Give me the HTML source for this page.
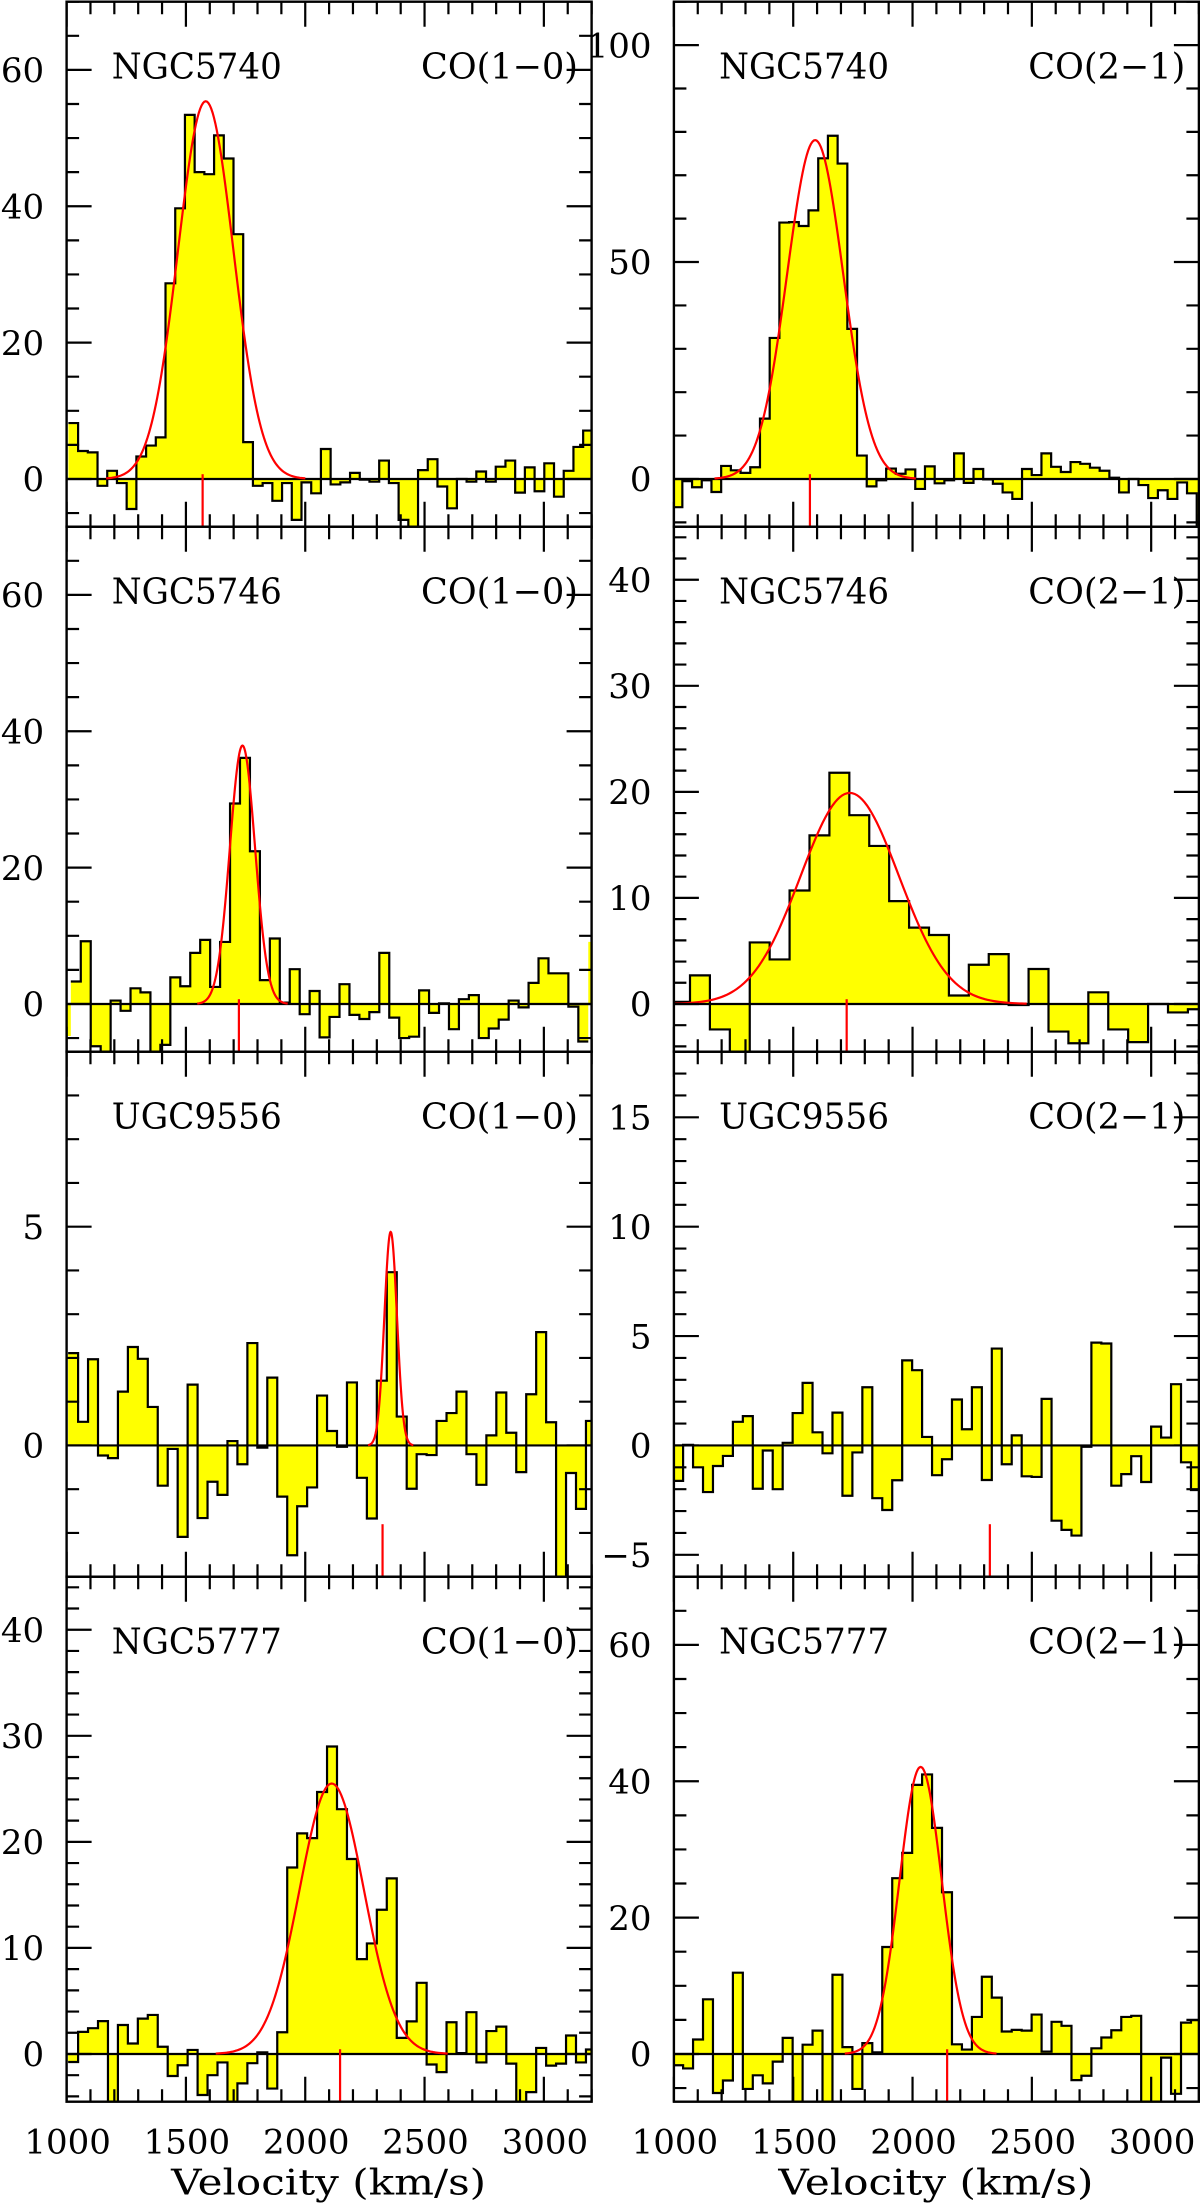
<!DOCTYPE html>
<html lang="en">
<head>
<meta charset="utf-8">
<title>CO spectra</title>
<style>
html,body{margin:0;padding:0;background:#fff;}
svg{display:block;}
text{font-family:"DejaVu Serif","Liberation Serif",serif;fill:#000;}
</style>
</head>
<body>
<svg id="chart" xmlns="http://www.w3.org/2000/svg" width="1200" height="2204" viewBox="0 0 1200 2204"></svg>
<script>
const galaxyNames = ["NGC5740","NGC5740","NGC5746","NGC5746","UGC9556","UGC9556","NGC5777","NGC5777"];
const lineNames = ["CO(1\u22120)","CO(2\u22121)","CO(1\u22120)","CO(2\u22121)","CO(1\u22120)","CO(2\u22121)","CO(1\u22120)","CO(2\u22121)"];
const yMins = [-7,-11,-7,-4.5,-3,-6,-4.5,-7];
const yMaxs = [70,110,70,45,9,18,45,70];
const yMajorTicks = [[0,20,40,60],[0,50,100],[0,20,40,60],[0,10,20,30,40],[0,5],[-5,0,5,10,15],[0,10,20,30,40],[0,20,40,60]];
const yMinorSteps = [5,10,5,2,1,1,2,5];
const xMajorTicks = [1000,1500,2000,2500,3000];
const xMinorStep = 100;
const xMin = 1000;
const xMax = 3200;
const binStarts = [1007.5,994.7,976,984,1006.4,996.8,1006.4,996.8];
const binWidths = [40.7,40.67,41.7,83.46,41.73,41.73,41.73,41.73];
const outlineSkipEnds = [0,0,1,0,0,0,0,0];
const markerVelocities = [1570,1570,1722,1724,2324,2324,2146,2145];
const fitCenters = [1583,1592,1737,1737,2358,null,2111,2034];
const fitPeaks = [55.4,78.1,37.9,19.9,4.88,null,25.5,42.1];
const fitWidths = [273,276,124,485,62,null,318,208];

const flux5740co10 = [8.2,4.1,3.9,-1.0,1.2,-0.6,-4.4,3.3,4.9,6.1,28.7,39.7,53.4,45.0,44.7,50.4,47.0,35.9,5.4,-1.0,-0.6,-3.2,-0.6,-6.0,-0.5,-2.1,4.4,-0.8,-0.5,0.9,-0.1,-0.4,2.7,-0.6,-6.0,-8.5,1.3,2.9,-1.1,-4.3,0,-0.4,1.1,-0.4,1.8,2.7,-2.0,1.7,-1.8,2.3,-2.6,1.2,4.7,7.1];
const flux5740co21 = [-6.5,-0.5,-1.9,-0.3,-3,3,2,1.4,2.7,13.9,32.5,59.1,59.2,58.3,61.9,73.9,79.1,72.7,34.6,5.4,-1.7,-0.3,2.4,1.2,2.2,-2.3,2.9,-1,-0.3,5.9,-0.9,2.3,-0.1,-1.1,-3.1,-4.6,2.3,0.9,5.9,2.8,1.6,3.9,3.5,2.6,1.9,0.3,-3.1,0,-1.4,-4.4,-2.6,-4.6,-0.8,-3.3,-11.6];
const flux5746co10 = [-4.7,3.3,9.2,-6.2,-8,0.5,-1,2.3,1.7,-8,-6,3.9,2.6,7.5,9.4,2.5,9.1,29.4,36.1,22.4,3.5,9.6,0.2,5.1,-1.5,1.9,-4.9,-1.9,2.9,-1.6,-2.2,-1.2,7.5,-2,-5,-4.8,2,-1.3,0.1,-3.7,0.7,1.3,-5,-3.6,-2.3,0.5,-0.5,3.1,6.7,4.5,4.5,-0.4,-5.5,9.1];
const flux5746co21 = [0.2,2.7,-2.4,-5,5.8,4.2,10.7,15.9,21.8,17.8,14.9,9.7,7.2,6.5,0.8,3.7,4.7,-0.1,3.3,-2.6,-3.7,1.1,-2.4,-3.6,0,-0.8,-0.5];
const fluxU9556co10 = [2.11,0.54,1.97,-0.23,-0.29,1.23,2.25,1.98,0.88,-0.92,-0.08,-2.09,1.39,-1.66,-0.83,-1.13,0.10,-0.43,2.34,-0.05,1.55,-1.17,-2.51,-1.39,-0.96,1.14,0.33,-0.03,1.44,-0.74,-1.67,1.48,3.96,0.66,-0.99,-0.2,-0.22,0.56,0.74,1.23,-0.2,-0.9,0.23,1.21,0.29,-0.61,1.17,2.59,0.53,-3.4,-0.63,-1.45,0.56];
const fluxU9556co21 = [-1.62,0.03,-1.0,-2.13,-0.94,-0.48,1.08,1.34,-1.98,-0.23,-2.0,0.12,1.48,2.86,0.6,-0.36,1.5,-2.3,-0.32,2.66,-2.41,-2.95,-1.59,3.89,3.44,0.39,-1.36,-0.63,2.1,0.74,2.66,-1.58,4.43,-0.86,0.46,-1.41,-1.44,2.13,-3.44,-3.86,-4.12,-0.06,4.7,4.66,-1.84,-1.31,-0.49,-1.67,0.86,0.36,2.8,-0.77,-2.04];
const flux5777co10 = [-0.76,2.08,2.43,3.1,-5.5,2.73,0.99,3.33,3.68,0.68,-2.08,-1.06,0.38,-3.87,-2.0,-0.8,-5.5,-2.77,-0.87,0.15,-3.26,2.05,17.58,20.8,20.35,24.7,28.99,23.08,18.38,8.94,10.42,13.6,16.56,1.52,3.07,6.71,-0.99,-1.71,2.99,0.08,3.94,-0.8,2.16,2.58,-0.91,-5.5,-3.6,0.57,-1.1,-0.91,1.74,-0.8,0.42];
const flux5777co21 = [-1.65,-2.12,2.12,8.02,-5.72,-3.89,11.92,-5.13,-3.13,-4.31,-1.12,2.36,-8,1.36,3.42,-8,11.62,1.0,-5.13,1.59,0.24,15.69,25.78,29.5,39.47,41.0,33.16,23.72,1.42,0.65,5.43,11.33,8.26,3.3,3.54,3.42,5.78,0.35,4.72,4.13,-3.83,-3.19,0.83,2.42,3.48,5.43,5.6,-8,-8,-0.53,-5.84,4.6,4.96];
const panelFlux = [flux5740co10,flux5740co21,flux5746co10,flux5746co21,fluxU9556co10,fluxU9556co21,flux5777co10,flux5777co21];

const svg = document.getElementById('chart');
const NS = 'http://www.w3.org/2000/svg';
const colLefts = [66.6, 673.9];
const rowTops = [1.7, 526.7, 1051.7, 1576.7];
const frameSize = 525;

function make(tag, parent, attrs) {
  const el = document.createElementNS(NS, tag);
  for (const k in attrs) el.setAttribute(k, attrs[k]);
  parent.appendChild(el);
  return el;
}

galaxyNames.forEach(function (galaxy, p) {
  const col = p % 2;
  const row = Math.floor(p / 2);
  const left = colLefts[col];
  const top = rowTops[row];
  const right = left + frameSize;
  const bottom = top + frameSize;
  const yMin = yMins[p];
  const yMax = yMaxs[p];
  const xScale = function (v) { return left + (v - xMin) * frameSize / (xMax - xMin); };
  const yScale = function (f) { return bottom - (f - yMin) * frameSize / (yMax - yMin); };
  const slug = galaxy.toLowerCase() + '-' + (col === 0 ? 'co10' : 'co21');

  const group = make('g', svg, {});
  
  

  const clip = make('clipPath', group, { id: 'clip-' + p });
  make('rect', clip, { x: left, y: top, width: frameSize, height: frameSize });
  const plot = make('g', group, { 'clip-path': 'url(#clip-' + p + ')' });
  
  

  const flux = panelFlux[p];
  const y0 = yScale(0);
  let fillD = 'M' + xScale(binStarts[p]).toFixed(2) + ' ' + y0.toFixed(2);
  flux.forEach(function (f, i) {
    const a = xScale(binStarts[p] + i * binWidths[p]).toFixed(2);
    const b = xScale(binStarts[p] + (i + 1) * binWidths[p]).toFixed(2);
    const y = yScale(f).toFixed(2);
    fillD += 'L' + a + ' ' + y + 'L' + b + ' ' + y;
  });
  fillD += 'L' + xScale(binStarts[p] + flux.length * binWidths[p]).toFixed(2) + ' ' + y0.toFixed(2) + 'Z';
  const fill = make('path', plot, { d: fillD, fill: '#ffff00', stroke: 'none' });
  
  

  const skip = outlineSkipEnds[p];
  let lineD = '';
  for (let i = skip; i < flux.length - skip; i++) {
    const a = xScale(binStarts[p] + i * binWidths[p]).toFixed(2);
    const b = xScale(binStarts[p] + (i + 1) * binWidths[p]).toFixed(2);
    const y = yScale(flux[i]).toFixed(2);
    lineD += (lineD === '' ? 'M' : 'L') + a + ' ' + y + 'L' + b + ' ' + y;
  }
  const outline = make('path', plot, { d: lineD, fill: 'none', stroke: '#000', 'stroke-width': 2.2, 'stroke-linejoin': 'miter' });
  
  

  const zero = make('line', plot, { x1: left, x2: right, y1: y0, y2: y0, stroke: '#000', 'stroke-width': 2.2 });
  
  

  if (fitCenters[p] !== null) {
    const sigma = fitWidths[p] / 2.3548;
    let curveD = '';
    for (let k = -72; k <= 72; k++) {
      const u = k / 20;
      const v = fitCenters[p] + u * sigma;
      const f = fitPeaks[p] * Math.exp(-0.5 * u * u);
      curveD += (curveD === '' ? 'M' : 'L') + xScale(v).toFixed(2) + ' ' + yScale(f).toFixed(2);
    }
    const curve = make('path', plot, { d: curveD, fill: 'none', stroke: '#ff0000', 'stroke-width': 2.2 });
    
    
  }

  const mx = xScale(markerVelocities[p]);
  const marker = make('line', plot, { x1: mx, x2: mx, y1: bottom - 52.5, y2: bottom, stroke: '#ff0000', 'stroke-width': 2.2 });
  
  

  const ticks = make('g', group, { stroke: '#000', 'stroke-width': 2.2, fill: 'none' });
  
  
  let tickD = '';
  for (let v = xMin; v <= xMax; v += xMinorStep) {
    const x = xScale(v).toFixed(2);
    const len = xMajorTicks.indexOf(v) >= 0 ? 25 : 12.5;
    tickD += 'M' + x + ' ' + top + 'v' + len + 'M' + x + ' ' + bottom + 'v' + (-len);
  }
  const ms = yMinorSteps[p];
  for (let m = Math.ceil(yMin / ms); m * ms <= yMax; m++) {
    const f = m * ms;
    const y = yScale(f).toFixed(2);
    tickD += 'M' + left + ' ' + y + 'h12.5M' + right + ' ' + y + 'h-12.5';
  }
  yMajorTicks[p].forEach(function (f) {
    const y = yScale(f).toFixed(2);
    tickD += 'M' + left + ' ' + y + 'h25M' + right + ' ' + y + 'h-25';
  });
  make('path', ticks, { d: tickD });

  const frame = make('rect', group, { x: left, y: top, width: frameSize, height: frameSize, fill: 'none', stroke: '#000', 'stroke-width': 2.4 });
  
  

  yMajorTicks[p].forEach(function (f) {
    const label = make('text', group, { x: left - 22.4, y: yScale(f) + 12.2, 'text-anchor': 'end', 'font-size': 34 });
    
    
    label.textContent = String(f).replace('-', '\u2212');
  });

  const nameText = make('text', group, { x: left + 45.2, y: top + 76.8, 'font-size': 35.5, textLength: 170, lengthAdjust: 'spacingAndGlyphs' });
  
  
  nameText.textContent = galaxy;

  const lineText = make('text', group, { x: left + 354.4, y: top + 76.8, 'font-size': 35.5, textLength: 157, lengthAdjust: 'spacingAndGlyphs' });
  
  
  lineText.textContent = lineNames[p];

  if (row === 3) {
    xMajorTicks.forEach(function (v) {
      const label = make('text', group, { x: xScale(v) + 1, y: 2153.7, 'text-anchor': 'middle', 'font-size': 34 });
      
      
      label.textContent = String(v);
    });
    const title = make('text', group, { x: left + 262, y: 2194.7, 'text-anchor': 'middle', 'font-size': 35.5, textLength: 315, lengthAdjust: 'spacingAndGlyphs' });
    
    
    title.textContent = 'Velocity (km/s)';
  }
});
</script>
</body>
</html>
